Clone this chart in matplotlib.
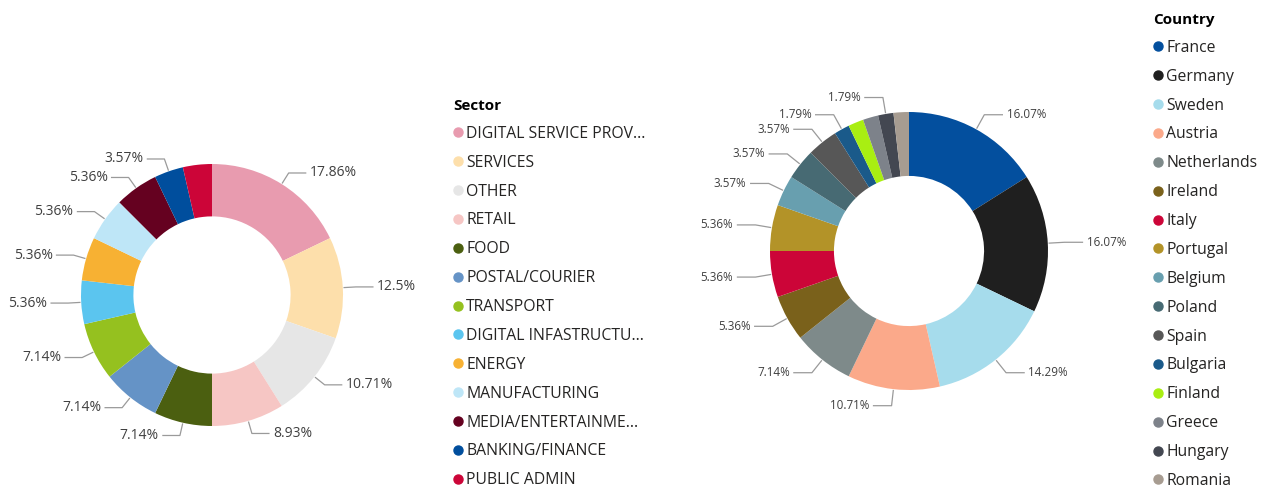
import numpy as np
import matplotlib
matplotlib.use("Agg")
import matplotlib.pyplot as plt
from matplotlib.lines import Line2D

plt.rcParams['font.family'] = ['Open Sans', 'DejaVu Sans']

# ---- data ----
sectors = ['DIGITAL SERVICE PROV...', 'SERVICES', 'OTHER', 'RETAIL', 'FOOD',
           'POSTAL/COURIER', 'TRANSPORT', 'DIGITAL INFASTRUCTU...', 'ENERGY',
           'MANUFACTURING', 'MEDIA/ENTERTAINME...', 'BANKING/FINANCE', 'PUBLIC ADMIN']
sector_counts = [10, 7, 6, 5, 4, 4, 4, 3, 3, 3, 3, 2, 2]
sector_colors = ['#E89BAF', '#FDDFAB', '#E6E6E6', '#F6C6C4', '#4B5F10',
                 '#6593C6', '#95C11F', '#5BC5EF', '#F7B133', '#BEE6F7',
                 '#650120', '#004E9D', '#CC0538']
sector_show = [1, 1, 1, 1, 1, 1, 1, 1, 1, 1, 1, 1, 0]

countries = ['France', 'Germany', 'Sweden', 'Austria', 'Netherlands', 'Ireland',
             'Italy', 'Portugal', 'Belgium', 'Poland', 'Spain', 'Bulgaria',
             'Finland', 'Greece', 'Hungary', 'Romania']
country_counts = [9, 9, 8, 6, 4, 3, 3, 3, 2, 2, 2, 1, 1, 1, 1, 1]
country_colors = ['#034F9E', '#1F1F1F', '#A6DCEC', '#FBA98A', '#7E8A8A', '#7A611B',
                  '#CC0538', '#B39328', '#689FAF', '#476A73', '#575757', '#1A5A8A',
                  '#A9EE12', '#7D828A', '#434751', '#A79C91']
country_show = [1, 1, 1, 1, 1, 1, 1, 1, 1, 1, 1, 1, 0, 0, 1, 0]

W, H = 1264, 488
fig = plt.figure(figsize=(W / 100, H / 100), dpi=100)
txt_col = '#252423'
lbl_col = '#404040'


def donut(cx, cy, rad, width, counts, colors, show, elbow, fsize):
    lim = 1.45
    side = 2 * lim * rad
    ax = fig.add_axes([(cx - side / 2) / W, (H - cy - side / 2) / H, side / W, side / H])
    ax.pie(counts, colors=colors, startangle=90, counterclock=False,
           wedgeprops=dict(width=width, linewidth=0))
    ax.set_xlim(-lim, lim)
    ax.set_ylim(-lim, lim)
    ax.set_aspect('equal')
    ax.axis('off')
    total = float(sum(counts))
    cum = np.cumsum([0] + counts)
    for i, c in enumerate(counts):
        if not show[i]:
            continue
        mid = (cum[i] + c / 2) / total * 360
        a = np.deg2rad(90 - mid)
        x0, y0 = np.cos(a), np.sin(a)
        x1, y1 = elbow * x0, elbow * y0
        sgn = 1 if x0 >= 0 else -1
        x2 = x1 + sgn * 0.13
        ax.plot([x0 * 1.01, x1, x2], [y0 * 1.01, y1, y1], color='#9a9a9a', lw=0.9,
                clip_on=False)
        pct = round(c / total * 100, 2)
        ax.text(x2 + sgn * 0.03, y1, f'{pct:g}%', ha='left' if sgn > 0 else 'right',
                va='center', fontsize=fsize, color=lbl_col, clip_on=False)
    return ax


donut(212, 295, 131, 0.4, sector_counts, sector_colors, sector_show, 1.1, 10)
donut(909, 251, 139, 0.46, country_counts, country_colors, country_show, 1.12, 8.4)


def legend(names, colors, title, x, y):
    handles = [Line2D([], [], marker='o', ls='', markersize=6.5, color=c) for c in colors]
    lg = fig.legend(handles, names, title=title, loc='upper left',
                    bbox_to_anchor=(x / W, 1 - y / H), frameon=False,
                    fontsize=11.3, labelspacing=0.82, handlelength=0.6,
                    handletextpad=0.25, borderpad=0, borderaxespad=0,
                    alignment='left',
                    title_fontproperties={'weight': 'bold', 'size': 11})
    for t in lg.get_texts():
        t.set_color(txt_col)
    lg.get_title().set_color('#000000')
    return lg


legend(sectors, sector_colors, 'Sector', 453, 99)
legend(countries, country_colors, 'Country', 1153, 13)

fig.savefig('out.png', dpi=100, facecolor='white')
